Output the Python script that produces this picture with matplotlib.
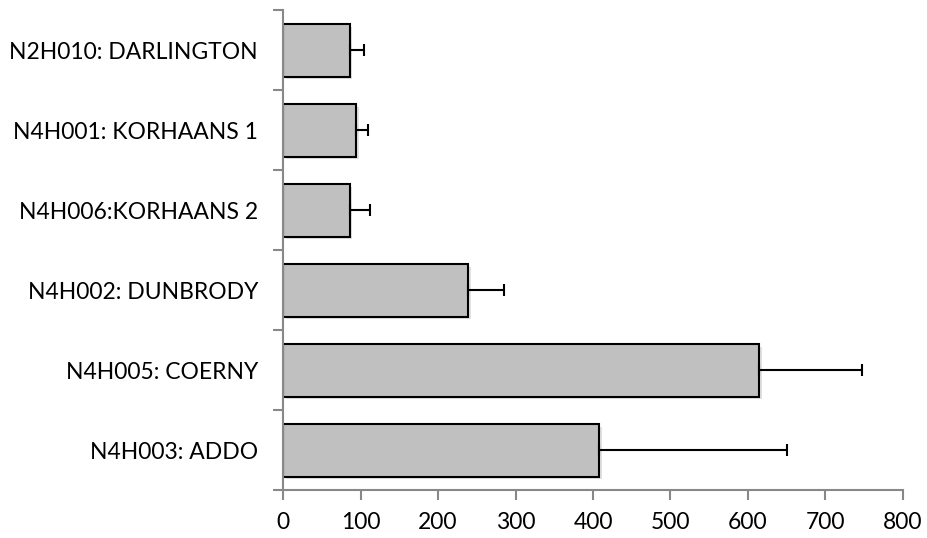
import numpy as np
import matplotlib
matplotlib.use("Agg")
from matplotlib import pyplot as plt
import matplotlib.patheffects as pe

# data, bottom to top as drawn
sites = ["N4H003: ADDO", "N4H005: COERNY", "N4H002: DUNBRODY",
         "N4H006:KORHAANS 2", "N4H001: KORHAANS 1", "N2H010: DARLINGTON"]
means = [408, 614, 239, 86, 94, 86]
errs = [243, 133, 46, 26, 16, 19]
xticks = [0, 100, 200, 300, 400, 500, 600, 700, 800]

plt.rcParams['font.family'] = ['Lato', 'DejaVu Sans']

fig = plt.figure(figsize=(9.28, 5.38), dpi=100)
ax = fig.add_axes([0.305, 0.089, 0.668, 0.892])

y = np.arange(len(sites))
bars = ax.barh(y, means, height=0.66, color='#c0c0c0', edgecolor='black',
               linewidth=1.5, zorder=2)
for b in bars:
    b.set_path_effects([pe.SimplePatchShadow(offset=(2, -2), alpha=0.15),
                        pe.Normal()])
ax.errorbar(means, y, xerr=[np.zeros(len(errs)), errs], fmt='none',
            ecolor='black', elinewidth=1.5, capsize=4, capthick=1.5, zorder=3)

ax.set_xlim(0, 800)
ax.set_ylim(-0.5, len(sites) - 0.5)
ax.set_xticks(xticks)
ax.set_xticklabels([str(t) for t in xticks])
ax.set_yticks(y)
ax.set_yticklabels(sites)

# ticks between categories like excel
ax.set_yticks(np.arange(-0.5, len(sites), 1), minor=True)
ax.tick_params(axis='y', which='major', length=0, pad=18, labelsize=16.5)
ax.tick_params(axis='y', which='minor', length=7, width=1.5, color='#888888')
ax.tick_params(axis='x', length=7, width=1.5, color='#888888', pad=9, labelsize=16.5)

for s in ['top', 'right']:
    ax.spines[s].set_visible(False)
for s in ['left', 'bottom']:
    ax.spines[s].set_color('#888888')
    ax.spines[s].set_linewidth(1.5)

plt.savefig("out.png", dpi=100)
